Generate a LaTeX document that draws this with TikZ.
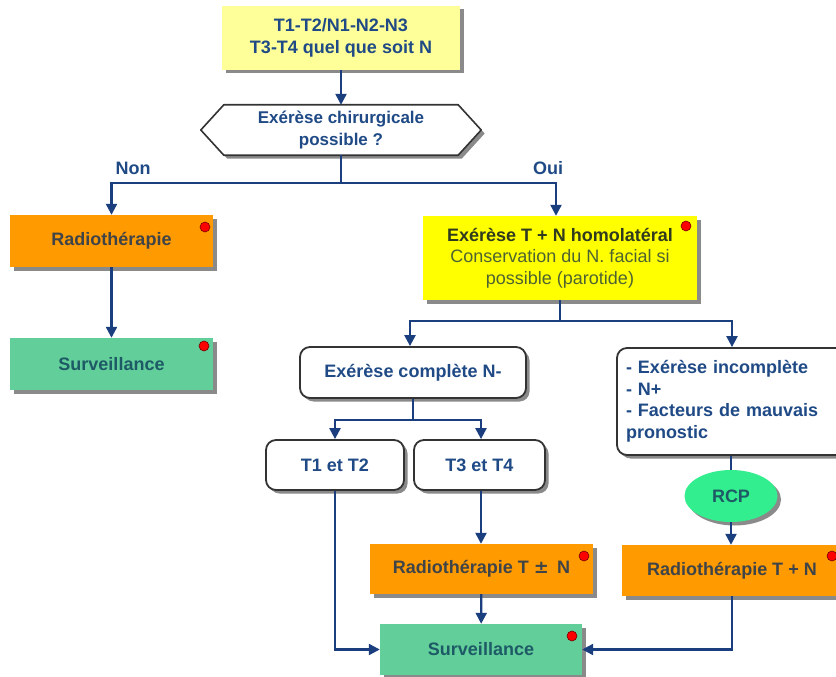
\documentclass[tikz,border=0pt]{standalone}
\usepackage{fontspec}
\setmainfont{Liberation Sans}
\usetikzlibrary{arrows.meta,shadows,calc,shapes.geometric}
\definecolor{navy}{HTML}{1B3F7E}
\definecolor{txtblue}{HTML}{1F4A86}
\definecolor{lyellow}{HTML}{FFFF99}
\definecolor{byellow}{HTML}{FFFF00}
\definecolor{orangebox}{HTML}{FF9A00}
\definecolor{greenbox}{HTML}{62CF9B}
\definecolor{rcpgreen}{HTML}{33EE8E}
\definecolor{txtgray}{HTML}{3F4448}
\definecolor{txtteal}{HTML}{1E5A66}
\definecolor{txtolive}{HTML}{2F3A1E}
\definecolor{txtolive2}{HTML}{4E6332}
\definecolor{shadowgray}{HTML}{8A8A8A}
\tikzset{
  base/.style={inner sep=0pt, font=\fontsize{18}{21.5}\selectfont\bfseries, align=center},
  shad/.style={drop shadow={shadow xshift=3.5pt, shadow yshift=-3.5pt, fill=shadowgray, opacity=1}},
  lybox/.style={base, shad, fill=lyellow, text=txtblue},
  ybox/.style={base, shad, fill=byellow},
  obox/.style={base, shad, fill=orangebox, text=txtgray},
  gbox/.style={base, shad, fill=greenbox, text=txtteal},
  wbox/.style={base, shad, fill=white, draw=black!80, line width=1.8pt, rounded corners=10pt, text=txtblue},
  rdot/.style={circle, fill=red, draw=red!45!black, line width=0.6pt, minimum size=10pt, inner sep=0pt},
  conn/.style={draw=navy, line width=2.3pt},
  arr/.style={conn, -{Triangle[length=11pt,width=11pt]}},
  lbl/.style={base, text=txtblue},
}
\begin{document}
\begin{tikzpicture}[x=1pt,y=-1pt]
\useasboundingbox (0,0) rectangle (836,677);
\fill[white] (0,0) rectangle (836,677);

% top box
\node[lybox, minimum width=238pt, minimum height=64pt] (top) at (341,38) {T1-T2/N1-N2-N3\\T3-T4 quel que soit N};

% hexagon
\node[base, minimum width=280pt, minimum height=50pt] (hex) at (341,130) {};
\fill[shadowgray] ($(hex.west)+(3.5,3.5)$) -- ($(hex.north west)+(23,3.5)$) -- ($(hex.north east)+(-19.5,3.5)$) -- ($(hex.east)+(3.5,3.5)$) -- ($(hex.south east)+(-19.5,3.5)$) -- ($(hex.south west)+(26.5,3.5)$) -- cycle;
\draw[fill=white, draw=black!80, line width=1.6pt, line join=round] (hex.west) -- ($(hex.north west)+(23,0)$) -- ($(hex.north east)+(-23,0)$) -- (hex.east) -- ($(hex.south east)+(-23,0)$) -- ($(hex.south west)+(23,0)$) -- cycle;
\node[lbl, font=\fontsize{17}{21.5}\selectfont\bfseries] (hextext) at (hex.center) {Exérèse chirurgicale\\possible ?};

% left branch
\node[obox, minimum width=203pt, minimum height=52pt] (radio1) at (111.5,241) {Radiothérapie};
\node[gbox, minimum width=203pt, minimum height=52pt] (surv1) at (111.5,364) {Surveillance};

% right branch
\node[ybox, minimum width=274pt, minimum height=84pt] (exT) at (560,258) {\textcolor{txtolive}{Exérèse T + N homolatéral}\\\textcolor{txtolive2}{\mdseries Conservation du N. facial si}\\\textcolor{txtolive2}{\mdseries possible (parotide)}};

\node[wbox, minimum width=226pt, minimum height=51pt] (compl) at (413,372.5) {Exérèse complète N-};
\node[wbox, minimum width=138pt, minimum height=50pt] (t12) at (335,465) {T1 et T2};
\node[wbox, minimum width=131pt, minimum height=50pt] (t34) at (479.5,465) {T3 et T4};

\node[wbox, minimum width=230pt, minimum height=107pt, text width=212pt, align=left, inner xsep=9pt] (inc) at (732,401.5) {- Exérèse incomplète\\- N+\\- Facteurs de mauvais\\pronostic};

\node[ellipse, base, shad, fill=rcpgreen, text=txtteal, minimum width=93pt, minimum height=52pt] (rcp) at (731,496) {RCP};

\node[obox, minimum width=223pt, minimum height=50pt] (radio2) at (481.5,569) {Radiothérapie T {\fontspec{DejaVu Sans}\bfseries ±}\, N};
\node[obox, minimum width=220pt, minimum height=51pt] (radio3) at (732,570.5) {Radiothérapie T + N};
\node[gbox, minimum width=202pt, minimum height=51pt] (surv2) at (481,649.5) {Surveillance};

% red dots
\node[rdot] (d1) at (205,227) {};
\node[rdot] (d2) at (204,346) {};
\node[rdot] (d3) at (686,226) {};
\node[rdot] (d4) at (584,556) {};
\node[rdot] (d5) at (832,556) {};
\node[rdot] (d6) at (572,636) {};

% labels
\node[lbl] (non) at (133,168) {Non};
\node[lbl] (oui) at (548,168) {Oui};

% connectors
\draw[arr] (top) -- (hex);
\coordinate (split1) at ($(hex.south)+(0,28)$);
\draw[conn] (hex.south) -- (split1);
\draw[arr] (split1) -| (radio1.north);
\draw[arr] (split1) -| ([xshift=-4pt]exT.north);
\draw[arr] (radio1) -- (surv1);

\coordinate (split2) at ($(exT.south)+(0,21)$);
\draw[conn] (exT.south) -- (split2);
\draw[arr] (split2) -| ([xshift=-3pt]compl.north);
\draw[arr] (split2) -| (inc.north);

\coordinate (split3) at ($(compl.south)+(0,21)$);
\draw[conn] (compl.south) -- (split3);
\draw[arr] (split3) -| (t12.north);
\draw[arr] (split3) -| ([xshift=1.5pt]t34.north);

\draw[conn] (inc.south -| rcp.north) -- (rcp.north);
\draw[arr] (rcp.south) -- (rcp.south |- radio3.north);
\draw[arr] ([xshift=1.5pt]t34.south) -- ([xshift=1.5pt]t34.south |- radio2.north);
\draw[arr] (radio2) -- (surv2);
\draw[arr] (t12.south) |- (surv2.west);
\draw[arr] (radio3.south) |- (surv2.east);
\end{tikzpicture}
\end{document}
